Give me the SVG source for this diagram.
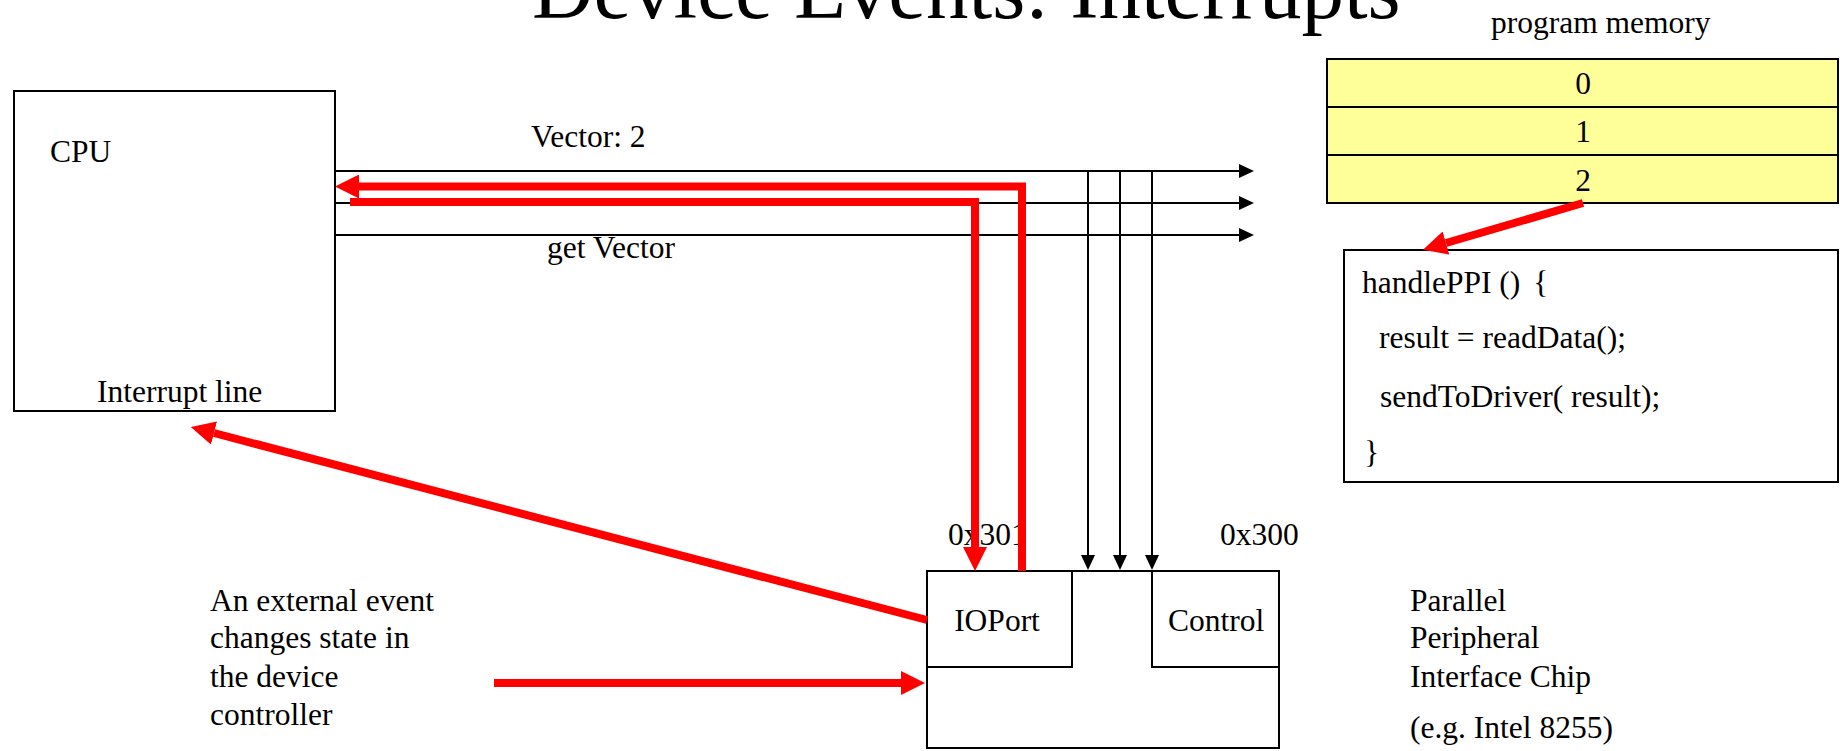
<svg xmlns="http://www.w3.org/2000/svg" width="1840" height="751" viewBox="0 0 1840 751">
<style>
  text { font-family: "Liberation Serif", "Times New Roman", serif; font-size: 31.5px; fill: #000; }
  .title { font-size: 85px; }
  .box { fill: #fff; stroke: #000; stroke-width: 2; }
  .mem { fill: #ffff99; stroke: #000; stroke-width: 2; }
  .bus { fill: none; stroke: #000; stroke-width: 2; }
  .red { fill: none; stroke: #ff0000; stroke-width: 8; }
  .mid { text-anchor: middle; }
</style>
<defs>
  <marker id="ra" markerUnits="userSpaceOnUse" markerWidth="24" markerHeight="24" refX="0" refY="12" orient="auto">
    <path d="M0,0 L24,12 L0,24 z" fill="#ff0000"/>
  </marker>
  <marker id="ba" markerUnits="userSpaceOnUse" markerWidth="16" markerHeight="16" refX="0" refY="7" orient="auto">
    <path d="M0,0 L15,7 L0,14 z" fill="#000"/>
  </marker>
</defs>
<rect width="1840" height="751" fill="#fff"/>

<text class="title" x="532" y="18">Device Events: Interrupts</text>

<g id="cpu">
  <rect class="box" x="14" y="91" width="321" height="320"/>
  <text x="50" y="162">CPU</text>
  <text x="97" y="402">Interrupt line</text>
</g>

<g id="memory">
  <text x="1491" y="33">program memory</text>
  <rect class="mem" x="1327" y="59" width="511" height="48"/>
  <rect class="mem" x="1327" y="107" width="511" height="48"/>
  <rect class="mem" x="1327" y="155" width="511" height="48"/>
  <text class="mid" x="1583" y="94">0</text>
  <text class="mid" x="1583" y="142">1</text>
  <text class="mid" x="1583" y="191">2</text>
</g>

<g id="handler">
  <rect class="box" x="1344" y="250" width="494" height="232"/>
  <text x="1362" y="293">handlePPI () <tspan dx="5">{</tspan></text>
  <text x="1379" y="348">result = readData();</text>
  <text x="1380" y="407">sendToDriver( result);</text>
  <text x="1364" y="463">}</text>
</g>

<g id="chip">
  <rect class="box" x="927" y="571" width="352" height="177"/>
  <rect class="box" x="927" y="571" width="145" height="96"/>
  <rect class="box" x="1152" y="571" width="127" height="96"/>
  <text class="mid" x="997" y="631">IOPort</text>
  <text x="1168" y="631">Control</text>
  <text x="948" y="545">0x301</text>
  <text x="1220" y="545">0x300</text>
</g>

<g id="event-label">
  <text x="210" y="611">An external event</text>
  <text x="210" y="648">changes state in</text>
  <text x="210" y="687">the device</text>
  <text x="210" y="725">controller</text>
</g>

<g id="chip-label">
  <text x="1410" y="611">Parallel</text>
  <text x="1410" y="648">Peripheral</text>
  <text x="1410" y="687">Interface Chip</text>
  <text x="1410" y="738">(e.g. Intel 8255)</text>
</g>

<g id="connectors">
  <path class="bus" d="M335,171 H1239" marker-end="url(#ba)"/>
  <path class="bus" d="M335,203 H1239" marker-end="url(#ba)"/>
  <path class="bus" d="M335,235 H1239" marker-end="url(#ba)"/>
  <path class="bus" d="M1088,171 V555" marker-end="url(#ba)"/>
  <path class="bus" d="M1120,171 V555" marker-end="url(#ba)"/>
  <path class="bus" d="M1152,171 V555" marker-end="url(#ba)"/>
  <text x="531" y="147">Vector: 2</text>
  <text x="547" y="258">get Vector</text>

  <path class="red" d="M1022,571 V186.5 H359" marker-end="url(#ra)"/>
  <path class="red" d="M350,202 H975 V547" marker-end="url(#ra)"/>
  <path class="red" d="M927,620 L214,433" marker-end="url(#ra)"/>
  <path class="red" d="M494,683 H901" marker-end="url(#ra)"/>
  <path class="red" d="M1583,203 L1446,243" marker-end="url(#ra)"/>
</g>
</svg>
